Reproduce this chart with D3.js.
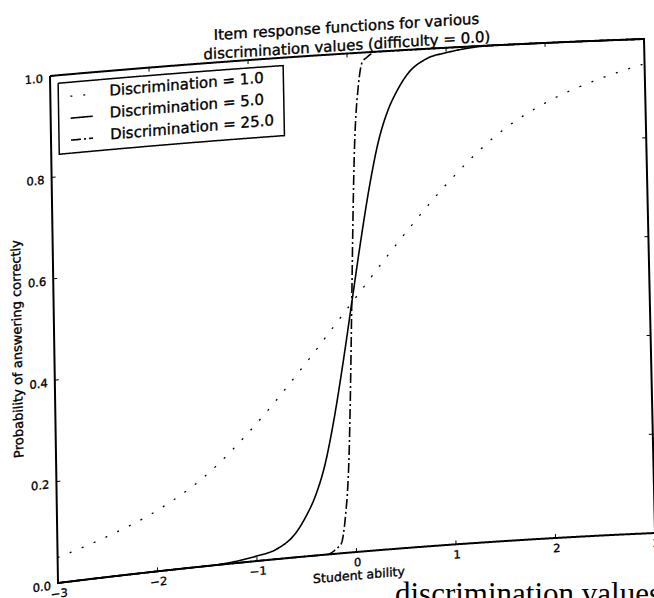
<!DOCTYPE html>
<html>
<head>
<meta charset="utf-8">
<script src="https://cdn.jsdelivr.net/npm/d3@7"></script>
<style>
body{margin:0;background:#fff}
svg{display:block}
text{font-family:"DejaVu Sans",sans-serif;fill:#000;stroke:#000;stroke-width:0.35px}
</style>
</head>
<body>
<script>
// values
var abilityLow  = [-3,-2.5,-2,-1.5,-1,-0.5,0,0.5,1,1.5,2,2.5,3];
var probLow     = [0.05,0.08,0.12,0.18,0.27,0.38,0.50,0.62,0.73,0.82,0.88,0.92,0.95];

var abilityMid  = [-3,-2.5,-2,-1.5,-1,-0.8,-0.6,-0.5,-0.4,-0.3,-0.2,-0.1,0,0.1,0.2,0.3,0.4,0.5,0.6,0.8,1,1.5,2,2.5,3];
var probMid     = [0,0,0,0,0.01,0.02,0.05,0.08,0.12,0.18,0.27,0.38,0.50,0.62,0.73,0.82,0.88,0.92,0.95,0.98,0.99,1,1,1,1];

var abilityHigh = [-3,-2.5,-2,-1.5,-1,-0.5,-0.3,-0.2,-0.15,-0.1,-0.08,-0.06,-0.04,-0.02,0,0.02,0.04,0.06,0.08,0.1,0.15,0.2,0.3,0.5,1,1.5,2,2.5,3];
var probHigh    = [0,0,0,0,0,0,0,0.01,0.02,0.08,0.12,0.18,0.27,0.38,0.50,0.62,0.73,0.82,0.88,0.92,0.98,0.99,1,1,1,1,1,1,1];

var legendLabels = ["Discrimination = 1.0", "Discrimination = 5.0", "Discrimination = 25.0"];
var xTicks = [-3,-2,-1,0,1,2,3];
var yTicks = [0,0.2,0.4,0.6,0.8,1.0];
var titleLines = ["Item response functions for various", "discrimination values (difficulty = 0.0)"];
var xLabel = "Student ability";
var yLabel = "Probability of answering correctly";
var caption = "discrimination values";

var W = 654, H = 598, PW = 594, PH = 507;
var x = d3.scaleLinear().domain([-3,3]).range([0,PW]);
var y = d3.scaleLinear().domain([0,1]).range([PH,0]);

// the page is skewed and curled in the scan: map flat plot pixels -> screen pixels
function warp(px, py){
	var u = px/PW, v = py/PH;
	var top = 76 - 53*u + 16*u*u, bot = 583 - 74*u + 24*u*u;
	return [(1-v)*(50 + 594*u) + v*(58 + 597*u), (1-v)*top + v*bot];
}
// local affine frame at a point, for text
function frame(px, py){
	var p = warp(px,py), a = warp(px+1,py), b = warp(px,py+1);
	return "matrix(" + [a[0]-p[0], a[1]-p[1], b[0]-p[0], b[1]-p[1], p[0], p[1]].join(",") + ")";
}

var svg = d3.select("body").append("svg").attr("width", W).attr("height", H);

// sample a flat path and return it warped
function warpPath(d){
	var tmp = svg.append("path").attr("d", d).style("visibility","hidden").node();
	var L = tmp.getTotalLength(), pts = [];
	for (var s = 0; s < L; s += 1){ var q = tmp.getPointAtLength(s); pts.push(warp(q.x,q.y)); }
	var e = tmp.getPointAtLength(L); pts.push(warp(e.x,e.y));
	svg.node().removeChild(tmp);
	return d3.line()(pts);
}

var curve = d3.line()
	.x(function(d){ return x(d[0]); })
	.y(function(d){ return y(d[1]); })
	.curve(d3.curveMonotoneX);

var series = [
	d3.zip(abilityLow, probLow),
	d3.zip(abilityMid, probMid),
	d3.zip(abilityHigh, probHigh)
];
var styles = [
	{dash:"2,11", w:1.3},
	{dash:null, w:1.6},
	{dash:"10,3,2,3", w:1.6}
];

// curves
svg.append("g").selectAll("path").data(series).enter().append("path")
	.attr("d", function(d){ return warpPath(curve(d)); })
	.attr("fill","none").attr("stroke","#000")
	.attr("stroke-width", function(d,i){ return styles[i].w; })
	.attr("stroke-dasharray", function(d,i){ return styles[i].dash; });

// frame
svg.append("path").attr("d", warpPath("M0,0H"+PW+"V"+PH+"H0Z"))
	.attr("fill","none").attr("stroke","#000").attr("stroke-width",2);

// inward ticks
var ticks = svg.append("g").attr("stroke","#000").attr("stroke-width",1);
xTicks.forEach(function(t){
	[[PH,PH-4],[0,4]].forEach(function(s){
		var a = warp(x(t), s[0]), b = warp(x(t), s[1]);
		ticks.append("line").attr("x1",a[0]).attr("y1",a[1]).attr("x2",b[0]).attr("y2",b[1]);
	});
});
yTicks.forEach(function(t){
	[[0,4],[PW,PW-4]].forEach(function(s){
		var a = warp(s[0], y(t)), b = warp(s[1], y(t));
		ticks.append("line").attr("x1",a[0]).attr("y1",a[1]).attr("x2",b[0]).attr("y2",b[1]);
	});
});

// tick labels
svg.append("g").selectAll("text").data(xTicks).enter().append("text")
	.attr("transform", function(d){ return frame(x(d)+1, PH+14.5); })
	.attr("text-anchor","middle").style("font-size","11.5px")
	.text(function(d){ return d < 0 ? "\u2212" + Math.abs(d) : d; });
svg.append("g").selectAll("text").data(yTicks).enter().append("text")
	.attr("transform", function(d){ return frame(-7, y(d)+6); })
	.attr("text-anchor","end").style("font-size","11.5px")
	.text(function(d){ return d.toFixed(1); });

// axis labels
svg.append("text").attr("transform", frame(299, PH+28))
	.attr("text-anchor","middle").style("font-size","12.5px").text(xLabel);
svg.append("text").attr("transform", frame(-37, 269) + " rotate(-90)")
	.attr("text-anchor","middle").attr("dy","0.35em").style("font-size","13px").text(yLabel);

// title
svg.append("g").selectAll("text").data(titleLines).enter().append("text")
	.attr("transform", function(d,i){ return frame(297, -22 + i*19); })
	.attr("text-anchor","middle").style("font-size","15px")
	.text(function(d){ return d; });

// legend
svg.append("path").attr("d", warpPath("M8,8H233V79H8Z"))
	.attr("fill","#fff").attr("stroke","#000").attr("stroke-width",1.5);
var leg = svg.append("g").selectAll("g").data(legendLabels).enter().append("g");
leg.append("path")
	.attr("d", function(d,i){ var by = 25 + i*22 - 3; return warpPath("M20,"+by+"H42"); })
	.attr("fill","none").attr("stroke","#000")
	.attr("stroke-width", function(d,i){ return styles[i].w; })
	.attr("stroke-dasharray", function(d,i){ return styles[i].dash; });
leg.append("text")
	.attr("transform", function(d,i){ return frame(59, 25 + i*22); })
	.style("font-size","15px").text(function(d){ return d; });

// caption of the book page, cut by the bottom edge
svg.append("text").attr("x",395).attr("y",604)
	.style("font-family","'Liberation Serif',serif").style("font-size","31px")
	.style("stroke-width","0").text(caption);
</script>
</body>
</html>
